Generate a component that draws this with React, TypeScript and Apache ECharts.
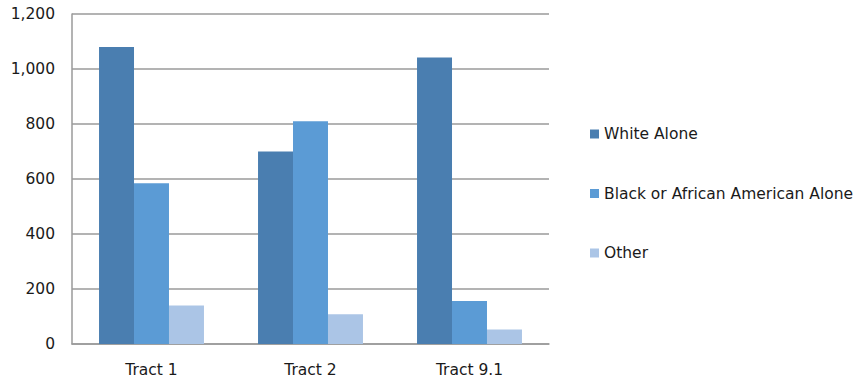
import React, { useEffect, useRef } from "react";
import * as echarts from "echarts";

const categories = ["Tract 1", "Tract 2", "Tract 9.1"];
const whiteAlone = [1080, 700, 1042];
const blackAlone = [585, 810, 156];
const other = [140, 108, 53];
const seriesNames = ["White Alone", "Black or African American Alone", "Other"];
const seriesColors = ["#4a7eb0", "#5b9bd5", "#abc5e6"];

const FONT = "DejaVu Sans";
const FONT_SIZE = 15.5;
const TEXT_COLOR = "#1a1a1a";

export default function App() {
  const ref = useRef<HTMLDivElement>(null);

  useEffect(() => {
    if (!ref.current) return;
    const chart = echarts.init(ref.current, undefined, { renderer: "svg" });
    const values = [whiteAlone, blackAlone, other];
    chart.setOption({
      animation: false,
      backgroundColor: "#ffffff",
      grid: { left: 72, right: 310, top: 14, bottom: 38, containLabel: false },
      legend: {
        orient: "vertical",
        left: 585,
        top: 121,
        itemWidth: 9,
        itemHeight: 9,
        itemGap: 43.5,
        icon: "rect",
        textStyle: {
          fontFamily: FONT,
          fontSize: FONT_SIZE,
          color: TEXT_COLOR,
          padding: [0, 0, 0, 0],
        },
        data: seriesNames,
      },
      xAxis: {
        type: "category",
        data: categories,
        axisLine: { show: true, lineStyle: { color: "#9a9a9a", width: 1.5 } },
        axisTick: { show: false },
        axisLabel: { fontFamily: FONT, fontSize: FONT_SIZE, color: TEXT_COLOR, margin: 18 },
      },
      yAxis: {
        type: "value",
        min: 0,
        max: 1200,
        interval: 200,
        axisLine: { show: true, lineStyle: { color: "#9a9a9a", width: 1.5 } },
        axisTick: { show: false },
        splitLine: { show: true, lineStyle: { color: "#9a9a9a", width: 1.5 } },
        axisLabel: {
          fontFamily: FONT,
          fontSize: FONT_SIZE,
          color: TEXT_COLOR,
          margin: 17,
          formatter: (v: number) => v.toLocaleString("en-US"),
        },
      },
      series: seriesNames.map((name, i) => ({
        name,
        type: "bar",
        data: values[i],
        barGap: "0%",
        barCategoryGap: "34%",
        itemStyle: { color: seriesColors[i] },
      })),
    });
    return () => chart.dispose();
  }, []);

  return (
    <div
      ref={ref}
      style={{ position: "fixed", left: 0, top: 0, width: 859, height: 382 }}
    />
  );
}
